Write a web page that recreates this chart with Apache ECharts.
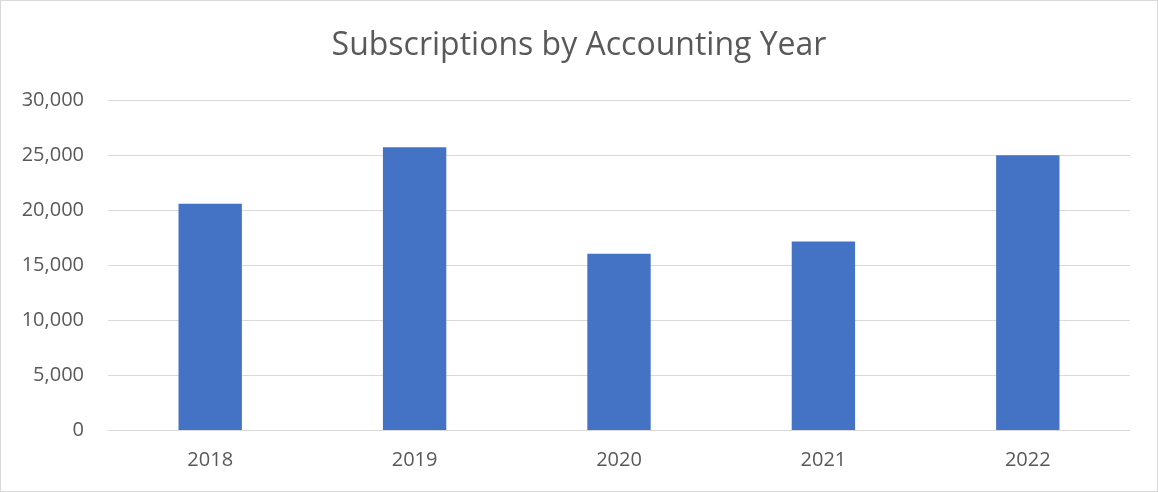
<!DOCTYPE html>
<html>
<head>
<meta charset="utf-8">
<script src="https://cdn.jsdelivr.net/npm/echarts@6/dist/echarts.min.js"></script>
<style>
  html, body { margin: 0; padding: 0; background: #fff; }
  #chart { width: 1158px; height: 492px; box-sizing: border-box; border: 1px solid #d9d9d9; }
</style>
</head>
<body>
<div id="chart"></div>
<script>
  // data
  var years = ['2018', '2019', '2020', '2021', '2022']
  var subscriptions = [20570, 25710, 16030, 17140, 24980]
  var yTicks = [0, 5000, 10000, 15000, 20000, 25000, 30000]

  var chart = echarts.init(document.getElementById('chart'))

  chart.setOption({
    backgroundColor: '#fff',
    animation: false,
    title: {
      text: 'Subscriptions by Accounting Year',
      left: 'center',
      top: 24,
      textStyle: {
        fontFamily: 'Open Sans',
        fontWeight: 'normal',
        fontSize: 32,
        color: '#595959'
      }
    },
    grid: {
      left: 107,
      right: 27,
      top: 99,
      bottom: 61
    },
    xAxis: {
      type: 'category',
      data: years,
      axisLine: { lineStyle: { color: '#d9d9d9', width: 1 } },
      axisTick: { show: false },
      axisLabel: {
        margin: 20,
        fontFamily: 'Open Sans',
        fontSize: 20,
        color: '#595959'
      }
    },
    yAxis: {
      type: 'value',
      min: yTicks[0],
      max: yTicks[yTicks.length - 1],
      interval: 5000,
      axisLine: { show: false },
      axisTick: { show: false },
      splitLine: { lineStyle: { color: '#d9d9d9', width: 1 } },
      axisLabel: {
        margin: 24,
        fontFamily: 'Open Sans',
        fontSize: 20,
        color: '#595959',
        formatter: function (v) {
          return v.toLocaleString('en-US')
        }
      }
    },
    series: [{
      type: 'bar',
      data: subscriptions,
      barWidth: '31%',
      itemStyle: { color: '#4472c4' }
    }]
  })
</script>
</body>
</html>
